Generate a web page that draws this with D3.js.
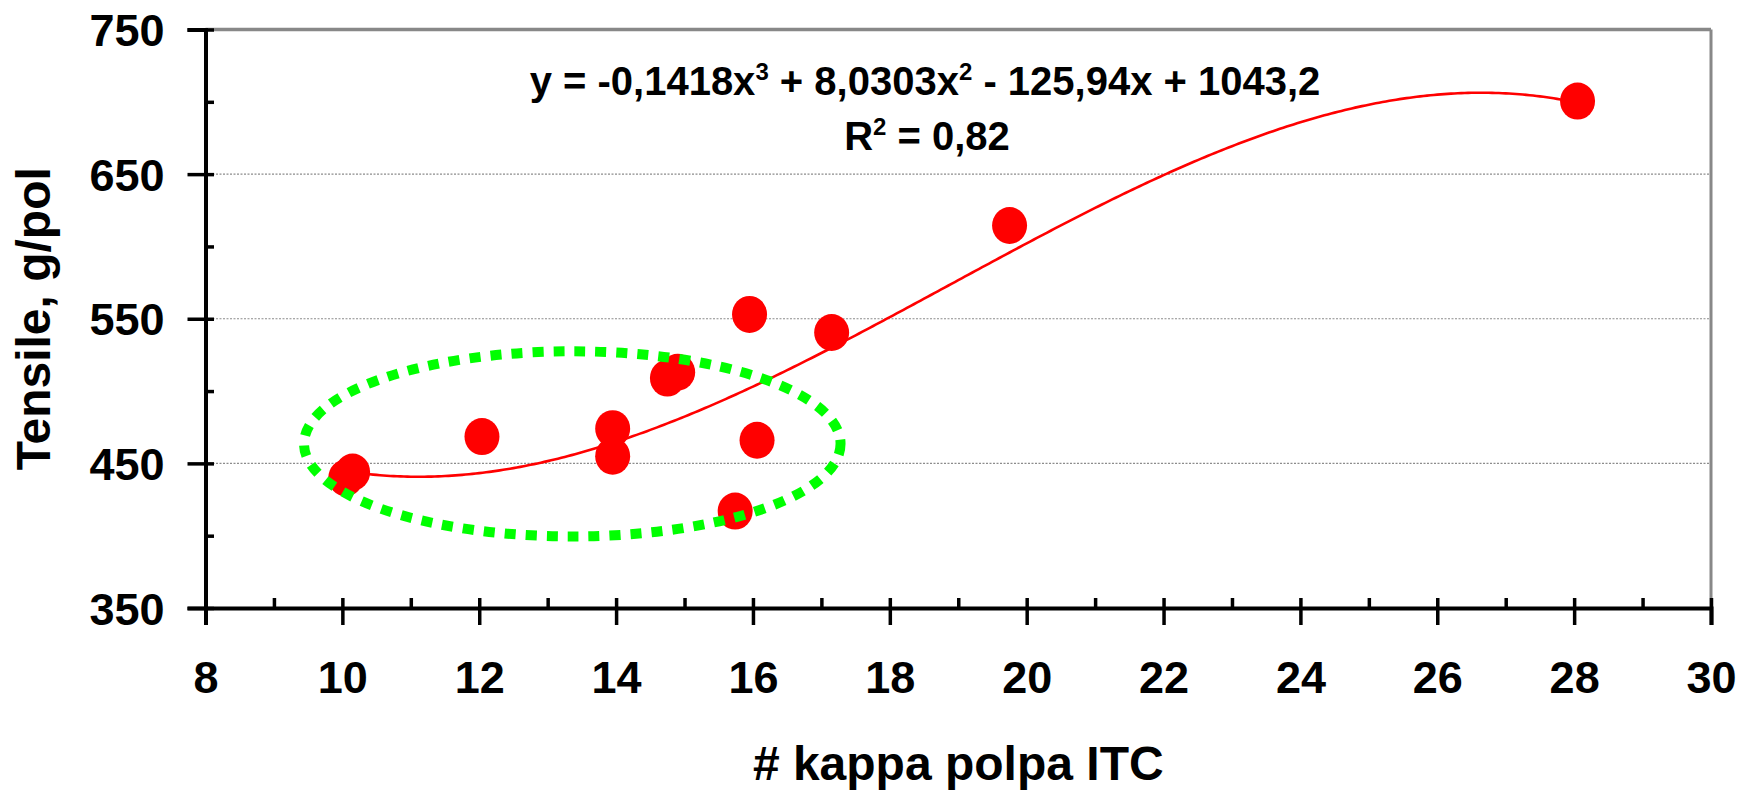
<!DOCTYPE html>
<html>
<head>
<meta charset="utf-8">
<script src="https://cdn.jsdelivr.net/npm/d3@7"></script>
<style>
  body { margin: 0; background: #fff; }
  svg { display: block; font-family: "Liberation Sans", Arial, sans-serif; font-weight: bold; }
</style>
</head>
<body>
<svg width="1755" height="791"></svg>
<script>
const svg = d3.select('svg')

// data
const kappa   = [10.05, 10.15, 12.04, 13.95, 13.95, 14.75, 14.9, 15.74, 15.95, 16.06, 17.15, 19.75, 28.05]
const tensile = [440, 444, 468.5, 474, 455, 509, 513, 417, 553, 466, 540.5, 614.5, 700.5]

// polynomial trend shown on the chart: c0 + c1 x + c2 x^2 + c3 x^3
const trendCoef = [1043.2, -125.94, 8.0303, -0.1418]

const xTicks = [8, 10, 12, 14, 16, 18, 20, 22, 24, 26, 28, 30]
const xMinor = [9, 11, 13, 15, 17, 19, 21, 23, 25, 27, 29]
const yTicks = [350, 450, 550, 650, 750]
const yMinor = [400, 500, 600, 700]
const gridValues = [450, 550, 650]

// highlighted group (data units)
const highlight = { cx: 13.36, cy: 463.5, rx: 3.92, ry: 64 }

const margin = { top: 29.5, right: 44, bottom: 183, left: 205.5 }
const w = +svg.attr('width'), h = +svg.attr('height')
const innerW = w - margin.left - margin.right
const innerH = h - margin.top - margin.bottom

const x = d3.scaleLinear().domain([8, 30]).range([0, innerW])
const y = d3.scaleLinear().domain([350, 750]).range([innerH, 0])

const g = svg.append('g')
    .attr('transform', `translate(${margin.left},${margin.top})`)

// dotted grid
g.selectAll('.grid')
    .data(gridValues)
    .enter().append('line')
        .attr('x1', 0)
        .attr('x2', innerW)
        .attr('y1', d => y(d))
        .attr('y2', d => y(d))
        .attr('stroke', '#8c8c8c')
        .attr('stroke-width', 1.2)
        .attr('stroke-dasharray', '2,1.5')

// gray frame top / right
g.append('line')
    .attr('x1', 0).attr('x2', innerW)
    .attr('y1', 0).attr('y2', 0)
    .attr('stroke', '#888').attr('stroke-width', 3.5)
g.append('line')
    .attr('x1', innerW).attr('x2', innerW)
    .attr('y1', 0).attr('y2', innerH)
    .attr('stroke', '#888').attr('stroke-width', 3)

// trend line
const poly = v => trendCoef.reduce((s, c, i) => s + c * Math.pow(v, i), 0)
const [xmin, xmax] = d3.extent(kappa)
const trendX = d3.range(xmin, xmax, 0.05).concat([xmax])

g.append('path')
    .datum(trendX)
    .attr('fill', 'none')
    .attr('stroke', '#ff0000')
    .attr('stroke-width', 2.6)
    .attr('d', d3.line().x(d => x(d)).y(d => y(poly(d))))

// points
g.selectAll('.pt')
    .data(kappa.map((k, i) => ({ k, t: tensile[i] })))
    .enter().append('ellipse')
        .attr('cx', d => x(d.k))
        .attr('cy', d => y(d.t))
        .attr('rx', 17.5)
        .attr('ry', 18.5)
        .attr('fill', '#ff0000')

// green dotted ellipse
g.append('ellipse')
    .attr('cx', x(highlight.cx))
    .attr('cy', y(highlight.cy))
    .attr('rx', x(highlight.cx + highlight.rx) - x(highlight.cx))
    .attr('ry', y(highlight.cy) - y(highlight.cy + highlight.ry))
    .attr('fill', 'none')
    .attr('stroke', '#00ff00')
    .attr('stroke-width', 10)
    .attr('stroke-dasharray', '11,10')

// y axis
const yAxis = g.append('g')
    .call(d3.axisLeft(y).tickValues(yTicks).tickSize(18).tickPadding(23))
yAxis.select('.domain').attr('stroke', '#000').attr('stroke-width', 4)
yAxis.selectAll('.tick line').attr('x2', -18).attr('x1', 8.5).attr('stroke-width', 3.5)
yAxis.selectAll('.tick text')
    .attr('font-size', 45)
    .attr('font-family', '"Liberation Sans", Arial, sans-serif')
    .attr('font-weight', 'bold')
    .attr('fill', '#000')
    .attr('x', -41)
    .attr('dy', '0.36em')

g.append('g')
    .call(d3.axisLeft(y).tickValues(yMinor).tickSize(-8.5).tickFormat(''))
    .call(s => s.select('.domain').remove())
    .selectAll('.tick line').attr('stroke-width', 3.5)

// x axis
const xAxis = g.append('g')
    .attr('transform', `translate(0,${innerH})`)
    .call(d3.axisBottom(x).tickValues(xTicks).tickSize(17))
xAxis.select('.domain').attr('stroke', '#000').attr('stroke-width', 4)
xAxis.selectAll('.tick line').attr('y1', -10).attr('y2', 17).attr('stroke-width', 3.5)
xAxis.selectAll('.tick text')
    .attr('font-size', 45)
    .attr('font-family', '"Liberation Sans", Arial, sans-serif')
    .attr('font-weight', 'bold')
    .attr('fill', '#000')
    .attr('y', 85)
    .attr('dy', 0)

g.append('g')
    .attr('transform', `translate(0,${innerH})`)
    .call(d3.axisBottom(x).tickValues(xMinor).tickSize(-10).tickFormat(''))
    .call(s => s.select('.domain').remove())
    .selectAll('.tick line').attr('stroke-width', 3.5)

// axis titles
svg.append('text')
    .attr('x', margin.left + innerW / 2)
    .attr('y', 780)
    .attr('text-anchor', 'middle')
    .attr('font-size', 48)
    .text('# kappa polpa ITC')

svg.append('text')
    .attr('transform', `translate(50, ${margin.top + innerH / 2}) rotate(-90)`)
    .attr('text-anchor', 'middle')
    .attr('font-size', 48)
    .text('Tensile, g/pol')

// trend equation
const eq = svg.append('text')
    .attr('x', 925)
    .attr('y', 95)
    .attr('text-anchor', 'middle')
    .attr('font-size', 40)
eq.append('tspan').text('y = -0,1418x')
eq.append('tspan').attr('font-size', 24).attr('dy', -15).text('3')
eq.append('tspan').attr('dy', 15).text(' + 8,0303x')
eq.append('tspan').attr('font-size', 24).attr('dy', -15).text('2')
eq.append('tspan').attr('dy', 15).text(' - 125,94x + 1043,2')

const r2 = svg.append('text')
    .attr('x', 927)
    .attr('y', 150)
    .attr('text-anchor', 'middle')
    .attr('font-size', 40)
r2.append('tspan').text('R')
r2.append('tspan').attr('font-size', 24).attr('dy', -15).text('2')
r2.append('tspan').attr('dy', 15).text(' = 0,82')
</script>
</body>
</html>
